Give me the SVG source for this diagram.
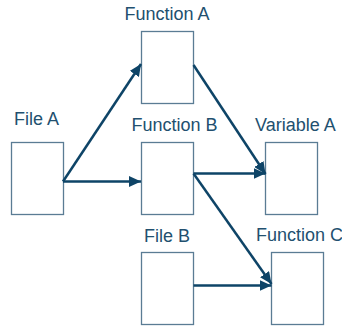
<svg xmlns="http://www.w3.org/2000/svg" width="342" height="327" viewBox="0 0 342 327">
<style>
.box{fill:#ffffff;stroke:#5a7c94;stroke-width:1.3}
.lbl{font-family:"Liberation Sans",Arial,sans-serif;font-size:18px;fill:#22506f}
.conn{stroke:#0e4467;stroke-width:2.5;fill:none}
</style>
<defs>
<marker id="ah" markerUnits="userSpaceOnUse" markerWidth="13" markerHeight="11" refX="12" refY="5.5" orient="auto">
<path d="M0,0 L12,5.5 L0,11 z" fill="#0e4467"/>
</marker>
</defs>
<rect width="342" height="327" fill="#ffffff"/>
<g id="fileA"><rect class="box" x="11.5" y="142.5" width="52" height="72"/><text class="lbl" x="14" y="125">File A</text></g>
<g id="functionA"><rect class="box" x="141.5" y="31.5" width="52" height="72"/><text class="lbl" x="124.5" y="19.5">Function A</text></g>
<g id="functionB"><rect class="box" x="141.5" y="142.5" width="52" height="72"/><text class="lbl" x="131.5" y="130.5">Function B</text></g>
<g id="variableA"><rect class="box" x="265.5" y="142.5" width="52" height="72"/><text class="lbl" x="255" y="130.5">Variable A</text></g>
<g id="fileB"><rect class="box" x="141.5" y="252.5" width="52" height="72"/><text class="lbl" x="144" y="241.5">File B</text></g>
<g id="functionC"><rect class="box" x="271.5" y="252.5" width="52" height="72"/><text class="lbl" x="256" y="241">Function C</text></g>
<g id="connectors">
<line class="conn" x1="63" y1="181.5" x2="141" y2="64" marker-end="url(#ah)"/>
<line class="conn" x1="63" y1="181.5" x2="141" y2="181.5" marker-end="url(#ah)"/>
<line class="conn" x1="193.5" y1="65" x2="265.5" y2="174" marker-end="url(#ah)"/>
<line class="conn" x1="193.5" y1="173.5" x2="265.5" y2="173.5" marker-end="url(#ah)"/>
<line class="conn" x1="193.5" y1="173.5" x2="271.5" y2="284" marker-end="url(#ah)"/>
<line class="conn" x1="193.5" y1="285.5" x2="271.5" y2="285.5" marker-end="url(#ah)"/>
</g>
</svg>
